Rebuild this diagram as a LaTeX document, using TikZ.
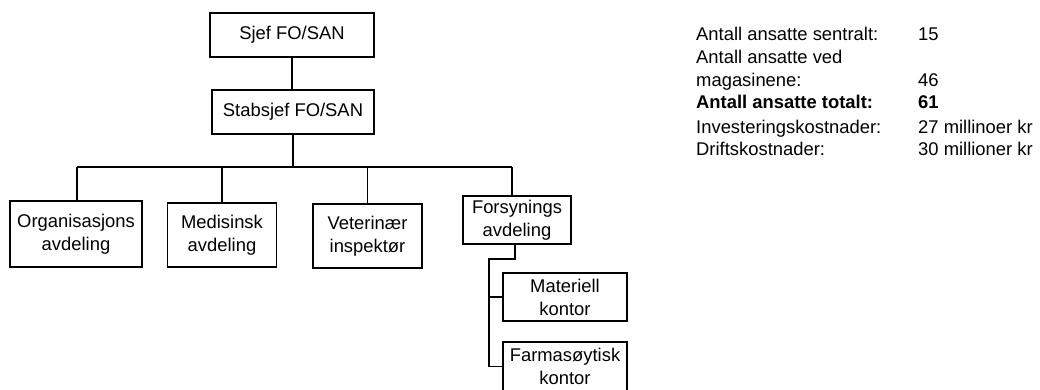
\documentclass[tikz,border=0pt]{standalone}
\usepackage{fontspec}
\setmainfont{Liberation Sans}
\newcommand\orgfont{\fontsize{18.4}{23}\selectfont}
\begin{document}
\begin{tikzpicture}[x=1pt,y=-1pt,
  box/.style={draw, line width=1.9pt, inner sep=0pt, align=center, font=\orgfont},
  link/.style={line width=1.9pt},
  info/.style={anchor=base west, inner sep=0pt, font=\orgfont}]
\useasboundingbox (0,0) rectangle (1040,389);

% management
\node[box, minimum width=164pt, minimum height=44pt] (sjef) at (292,35) {Sjef FO/SAN};
\node[box, minimum width=162pt, minimum height=44pt] (stab) at (293,112) {Stabsjef FO/SAN};

% departments
\node[box, minimum width=132pt, minimum height=66pt] (org) at (76,234) {Organisasjons\\avdeling};
\node[box, minimum width=109pt, minimum height=64pt] (med) at (222,235) {Medisinsk\\avdeling};
\node[box, minimum width=109pt, minimum height=64pt] (vet) at (367.5,236) {Veterinær\\inspektør};
\node[box, minimum width=108pt, minimum height=48pt] (fors) at (517,220) {Forsynings\\avdeling};

% offices under the supply department
\node[box, minimum width=124pt, minimum height=48pt] (mat) at (565,297) {Materiell\\kontor};
\node[box, minimum width=124pt, minimum height=49pt] (farm) at (565,366.5) {Farmasøytisk\\kontor};

% connectors
\draw[link] (sjef.south) -- (sjef.south |- stab.north);
\coordinate (busL) at (77,167);
\coordinate (busR) at (512,167);
\draw[link] (stab.south) -- (stab.south |- busL);
\draw[link] (busL) -- (busR);
\draw[link] (busL) -- (busL |- org.north);
\draw[link] (med.north |- busL) -- (med.north);
\draw[link] (vet.north |- busL) -- (vet.north);
\draw[link] (busR) -- (busR |- fors.north);

\coordinate (spine) at (489,259);
\draw[link] ([xshift=-2pt]fors.south) |- (spine) -- (spine |- farm.west);
\draw[link] (spine |- mat.west) -- (mat.west);
\draw[link] (spine |- farm.west) -- (farm.west);

% staffing and cost figures
\node[info] (t1) at (696,40) {Antall ansatte sentralt:};
\node[info] (v1) at (918,40) {15};
\node[info] (t2) at (696,63) {Antall ansatte ved};
\node[info] (t3) at (696,86) {magasinene:};
\node[info] (v3) at (918,86) {46};
\node[info] (t4) at (696,108) {\bfseries Antall ansatte totalt:};
\node[info] (v4) at (918,108) {\bfseries 61};
\node[info] (t5) at (696,133) {Investeringskostnader:};
\node[info] (v5) at (918,133) {27 millinoer kr};
\node[info] (t6) at (696,155) {Driftskostnader:};
\node[info] (v6) at (918,155) {30 millioner kr};
\end{tikzpicture}
\end{document}
